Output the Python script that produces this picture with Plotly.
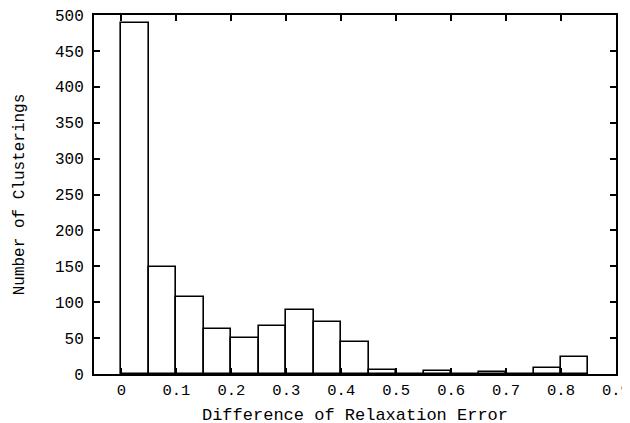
import plotly.graph_objects as go

bin_starts = [0.0, 0.05, 0.10, 0.15, 0.20, 0.25, 0.30, 0.35, 0.40, 0.45,
              0.50, 0.55, 0.60, 0.65, 0.70, 0.75, 0.80]
counts = [489, 149, 107, 62, 50, 67, 89, 73, 45, 6, 0, 4, 0, 3, 0, 9, 23]
bin_width = 0.05
x_ticks = [0, 0.1, 0.2, 0.3, 0.4, 0.5, 0.6, 0.7, 0.8, 0.9]
x_tick_labels = ["0", "0.1", "0.2", "0.3", "0.4", "0.5", "0.6", "0.7", "0.8", "0.9"]
y_ticks = list(range(0, 501, 50))

font_family = "Liberation Mono, Courier New, monospace"

fig = go.Figure()
fig.add_trace(go.Bar(
    x=bin_starts,
    y=counts,
    width=[bin_width] * len(bin_starts),
    offset=0,
    marker=dict(color="white", line=dict(color="black", width=1.6)),
    showlegend=False,
))

# the page body has an 8px margin, so the figure sits 8px in from the corner
fig.update_layout(
    template="none",
    width=630, height=423,
    margin=dict(l=86, r=22, t=7, b=57, autoexpand=False),
    paper_bgcolor="white", plot_bgcolor="white",
    font=dict(family=font_family, size=16, color="black"),
    bargap=0,
)
fig.update_xaxes(
    automargin=False,
    range=[-0.05, 0.9001],
    tickvals=x_ticks, ticktext=x_tick_labels,
    ticks="inside", ticklen=6, tickwidth=1.5, tickcolor="black",
    showline=True, linecolor="black", linewidth=2, mirror="ticks",
    showgrid=False, zeroline=False,
    ticklabelstandoff=0,
    ticklabeloverflow="allow",
    tickfont=dict(family=font_family, size=15.5),
    title=dict(text="Difference of Relaxation Error", standoff=10,
               font=dict(family=font_family, size=17)),
)
fig.update_yaxes(
    automargin=False,
    range=[0, 500.01],
    tickvals=y_ticks,
    ticks="inside", ticklen=6, tickwidth=1.5, tickcolor="black",
    showline=True, linecolor="black", linewidth=2, mirror="ticks",
    showgrid=False, zeroline=False,
    ticklabelstandoff=5,
    ticklabeloverflow="allow",
    tickfont=dict(family=font_family, size=16),
    title=dict(text="Number of Clusterings", standoff=26,
               font=dict(family=font_family, size=16)),
)

fig.write_html("out.html")
